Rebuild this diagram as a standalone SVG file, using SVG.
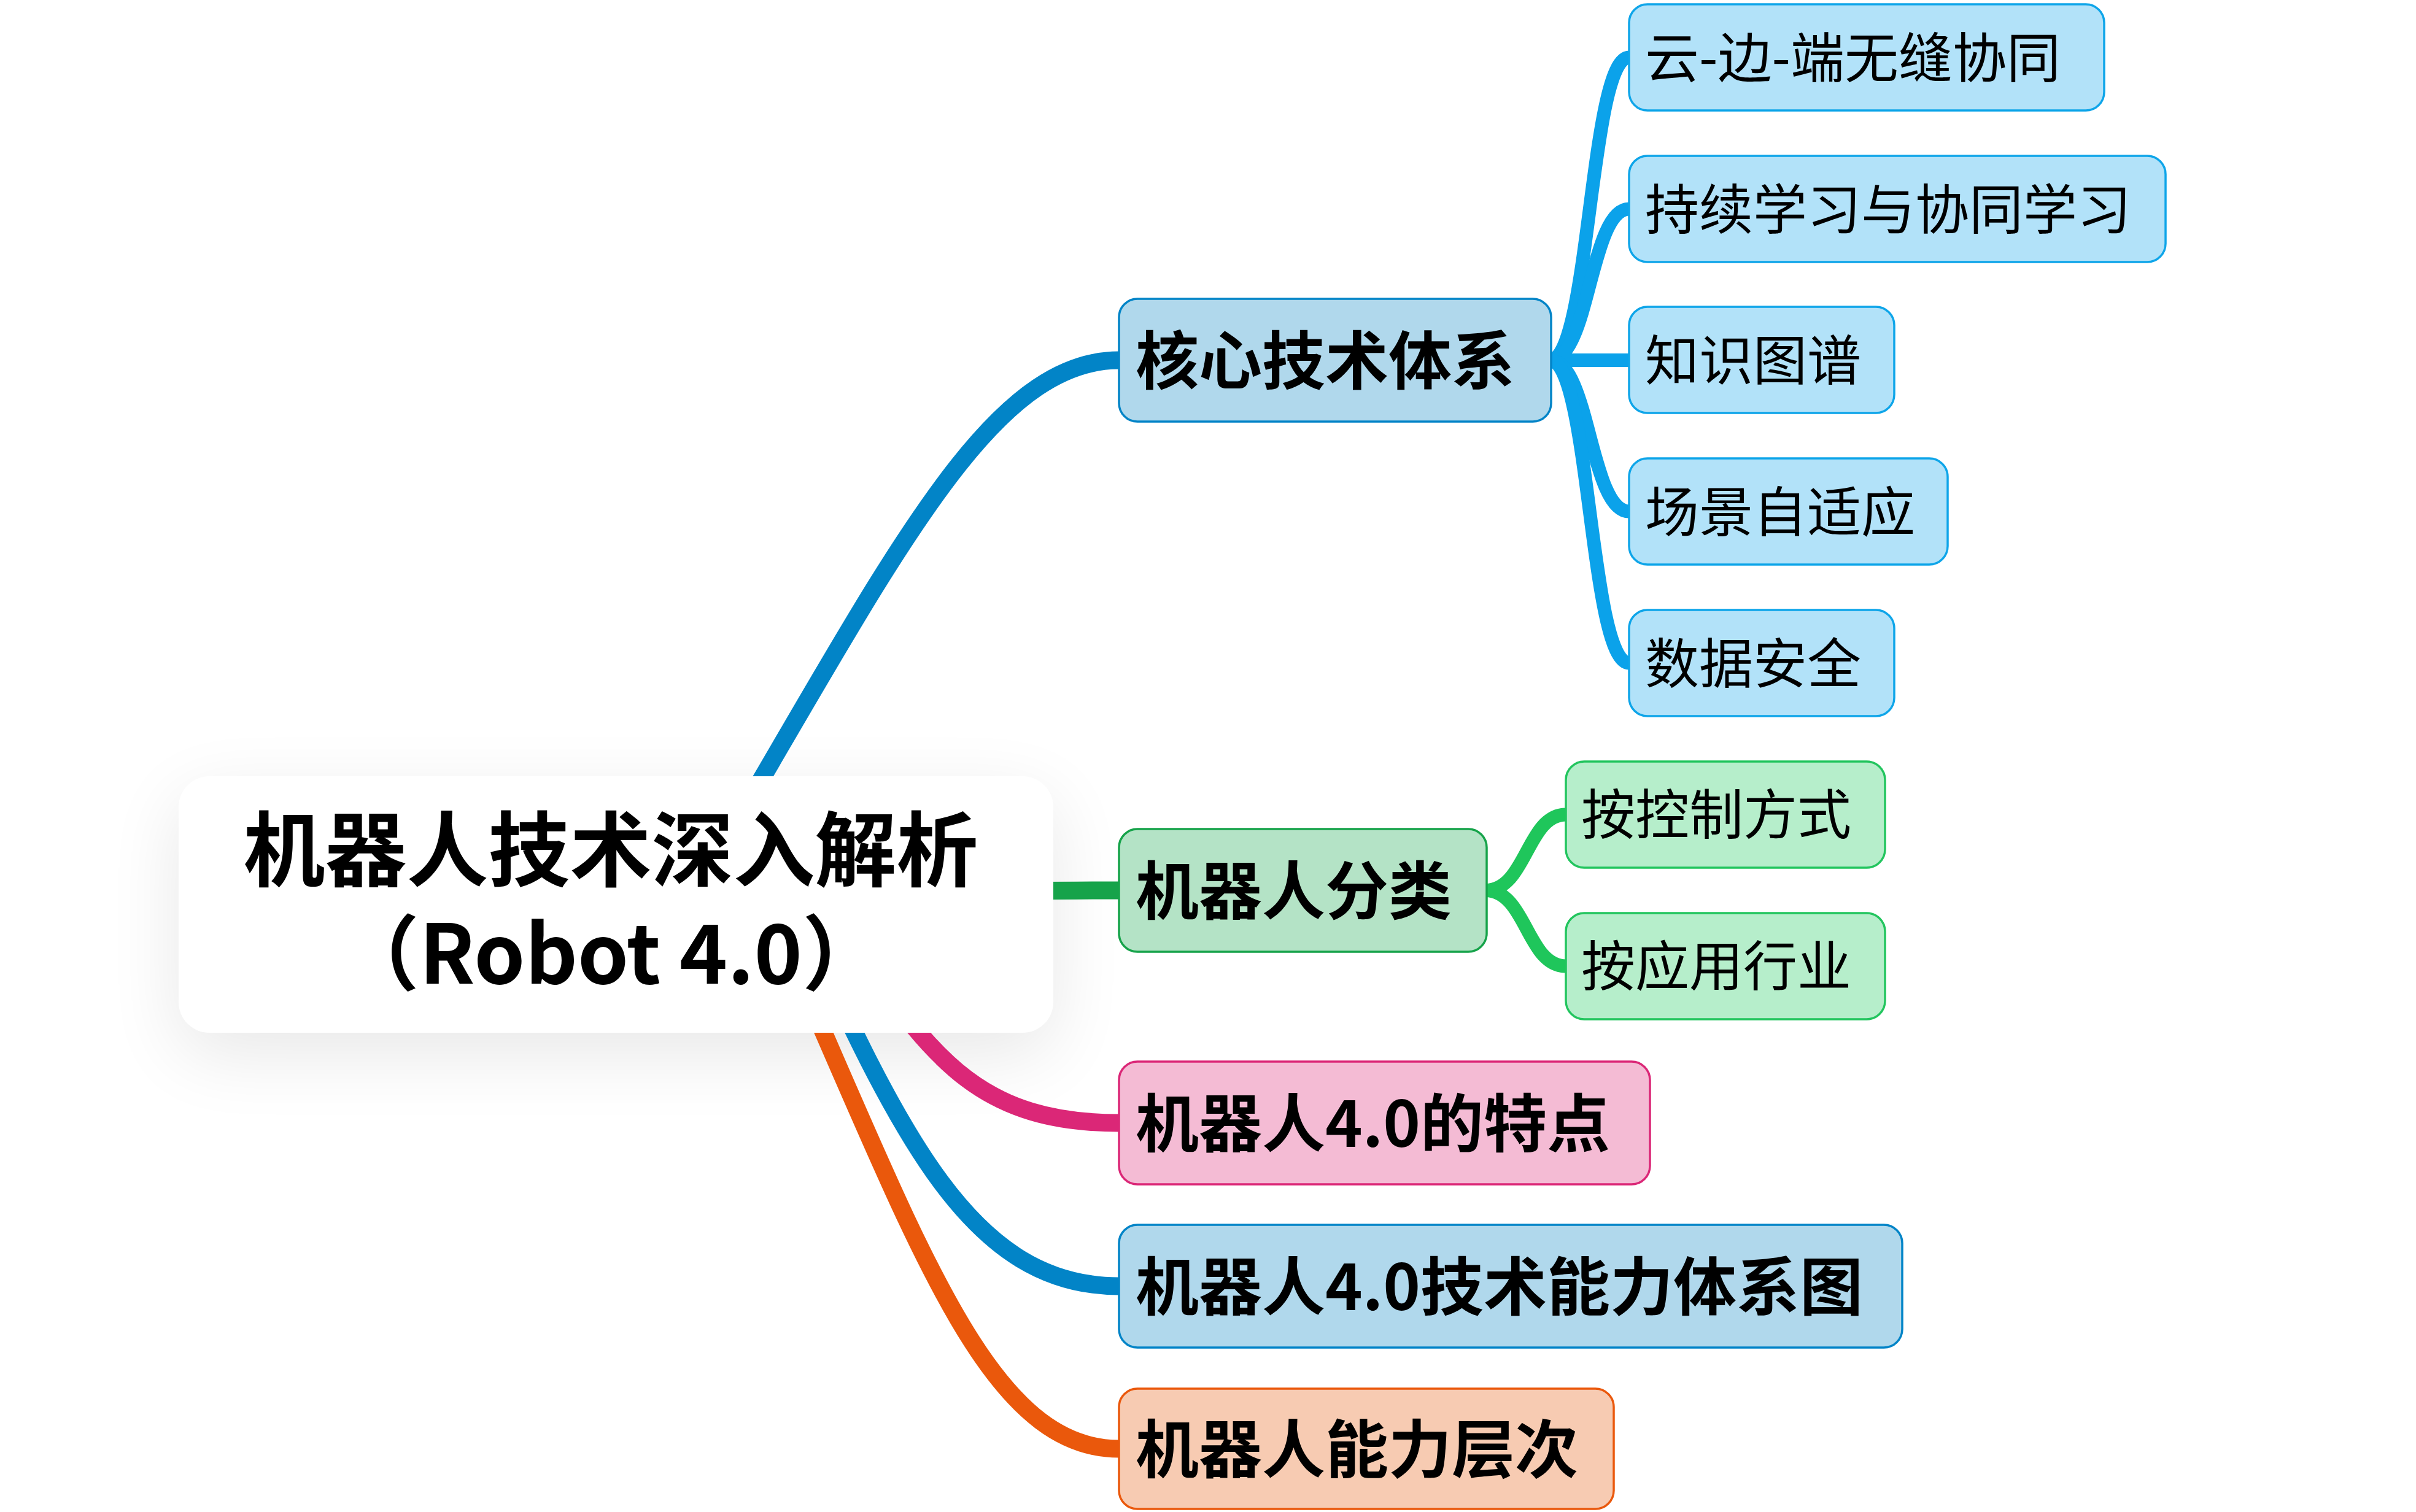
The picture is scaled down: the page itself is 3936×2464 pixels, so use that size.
<svg xmlns="http://www.w3.org/2000/svg" width="3936" height="2464" viewBox="0 0 3936 2464">
<defs>
<filter id="shadow" x="-30%" y="-60%" width="160%" height="220%">
<feGaussianBlur stdDeviation="60"/>
</filter>
<style>
text{font-family:"Noto Sans CJK SC","Noto Sans",sans-serif;fill:#000;}
.root{font-size:133px;font-weight:700;}
.l1{font-size:103px;font-weight:700;}
.l2{font-size:88px;font-weight:400;}
.c{fill:none;stroke-linecap:butt;}
.c1{stroke-width:29;}
.c2{stroke-width:22;}
.box{stroke-width:3.5;}
.blue{fill:#b0d8ec;stroke:#0284c7;}
.sky{fill:#b2e2f9;stroke:#0ea5e9;}
.green{fill:#b4e3c6;stroke:#16a34a;}
.lgreen{fill:#b6eecb;stroke:#22c55e;}
.pink{fill:#f4bbd4;stroke:#db2777;}
.orange{fill:#f7cbb2;stroke:#ea580c;}
</style>
</defs>
<rect width="3936" height="2464" fill="#ffffff"/>
<rect x="291" y="1300" width="1425" height="418" rx="50" fill="#000" opacity="0.09" filter="url(#shadow)"/>
<g id="connectors">
<path class="c c1" stroke="#0284c7" d="M1120,1474 C1439,942 1600,587 1823,587"/>
<path class="c c1" stroke="#16a34a" d="M1300,1458 C1600,1452 1700,1451 1823,1451"/>
<path class="c c1" stroke="#db2777" d="M1340,1474 C1503,1688 1560,1830 1823,1830"/>
<path class="c c1" stroke="#0284c7" d="M1294,1474 C1466,1847 1580,2096 1823,2096"/>
<path class="c c1" stroke="#ea580c" d="M1250,1474 C1489,2006 1600,2361 1823,2361"/>
<path class="c c2" stroke="#0ba2ea" d="M2525,587 C2590,587 2590,93.5 2654,93.5"/>
<path class="c c2" stroke="#0ba2ea" d="M2525,587 C2590,587 2590,340.5 2654,340.5"/>
<path class="c c2" stroke="#0ba2ea" d="M2525,587 L2654,587"/>
<path class="c c2" stroke="#0ba2ea" d="M2525,587 C2590,587 2590,833.5 2654,833.5"/>
<path class="c c2" stroke="#0ba2ea" d="M2525,587 C2590,587 2590,1080.5 2654,1080.5"/>
<path class="c c2" stroke="#1fc65b" d="M2420,1451 C2487,1451 2487,1327.5 2551,1327.5"/>
<path class="c c2" stroke="#1fc65b" d="M2420,1451 C2487,1451 2487,1574.5 2551,1574.5"/>
</g>
<g id="root">
<rect x="291" y="1265" width="1425" height="418" rx="50" fill="#ffffff"/>
<text class="root" x="995" y="1434" text-anchor="middle">机器人技术深入解析</text>
<text class="root" x="995" y="1603" text-anchor="middle">（Robot 4.0）</text>
</g>
<g id="core">
<rect class="box blue" x="1823" y="487" width="704" height="200" rx="30"/>
<text class="l1" x="1850" y="626">核心技术体系</text>
</g>
<g id="classify">
<rect class="box green" x="1823" y="1351" width="599" height="200" rx="30"/>
<text class="l1" x="1850" y="1490">机器人分类</text>
</g>
<g id="features">
<rect class="box pink" x="1823" y="1730" width="865" height="200" rx="30"/>
<text class="l1" x="1850" y="1869">机器人4.0的特点</text>
</g>
<g id="capability-map">
<rect class="box blue" x="1823" y="1996" width="1276" height="200" rx="30"/>
<text class="l1" x="1850" y="2135">机器人4.0技术能力体系图</text>
</g>
<g id="levels">
<rect class="box orange" x="1823" y="2263" width="806" height="196" rx="30"/>
<text class="l1" x="1850" y="2400">机器人能力层次</text>
</g>
<g id="cloud-edge">
<rect class="box sky" x="2654" y="7" width="774" height="173" rx="30"/>
<text class="l2" x="2680" y="126">云-边-端无缝协同</text>
</g>
<g id="learning">
<rect class="box sky" x="2654" y="254" width="874" height="173" rx="30"/>
<text class="l2" x="2680" y="373">持续学习与协同学习</text>
</g>
<g id="knowledge">
<rect class="box sky" x="2654" y="500" width="432" height="173" rx="30"/>
<text class="l2" x="2680" y="619">知识图谱</text>
</g>
<g id="scene">
<rect class="box sky" x="2654" y="747" width="519" height="173" rx="30"/>
<text class="l2" x="2680" y="866">场景自适应</text>
</g>
<g id="security">
<rect class="box sky" x="2654" y="994" width="432" height="173" rx="30"/>
<text class="l2" x="2680" y="1113">数据安全</text>
</g>
<g id="by-control">
<rect class="box lgreen" x="2551" y="1241" width="520" height="173" rx="30"/>
<text class="l2" x="2576" y="1359">按控制方式</text>
</g>
<g id="by-industry">
<rect class="box lgreen" x="2551" y="1488" width="520" height="173" rx="30"/>
<text class="l2" x="2576" y="1606">按应用行业</text>
</g>
</svg>
